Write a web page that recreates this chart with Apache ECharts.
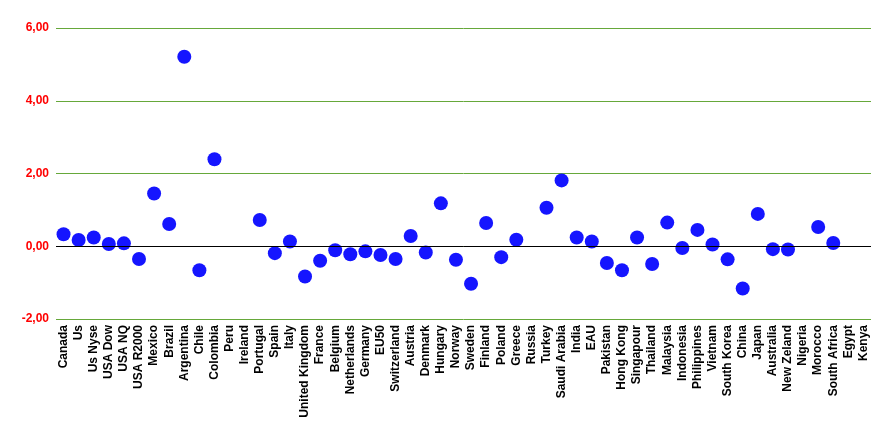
<!DOCTYPE html>
<html>
<head>
<meta charset="utf-8">
<script src="https://cdn.jsdelivr.net/npm/echarts@6/dist/echarts.min.js"></script>
<style>
  html, body { margin: 0; padding: 0; background: #fff; }
  #chart { width: 893px; height: 436px; }
</style>
</head>
<body>
<div id="chart"></div>
<script>
// categories
var countries = ["Canada", "Us", "Us Nyse", "USA Dow", "USA NQ", "USA R2000", "Mexico", "Brazil",
  "Argentina", "Chile", "Colombia", "Peru", "Ireland", "Portugal", "Spain", "Italy",
  "United Kingdom", "France", "Belgium", "Netherlands", "Germany", "EU50", "Switzerland",
  "Austria", "Denmark", "Hungary", "Norway", "Sweden", "Finland", "Poland", "Greece",
  "Russia", "Turkey", "Saudi Arabia", "India", "EAU", "Pakistan", "Hong Kong", "Singapour",
  "Thailand", "Malaysia", "Indonesia", "Philippines", "Vietnam", "South Korea", "China",
  "Japan", "Australia", "New Zeland", "Nigeria", "Morocco", "South Africa", "Egypt", "Kenya"];

// values (null = no point)
var values = [0.33, 0.17, 0.24, 0.06, 0.08, -0.35, 1.45, 0.61,
  5.21, -0.66, 2.39, null, null, 0.72, -0.19, 0.13,
  -0.83, -0.40, -0.11, -0.22, -0.14, -0.24, -0.35,
  0.28, -0.17, 1.18, -0.37, -1.03, 0.64, -0.30, 0.18,
  null, 1.06, 1.81, 0.24, 0.13, -0.46, -0.66, 0.24,
  -0.49, 0.65, -0.05, 0.45, 0.05, -0.36, -1.16,
  0.89, -0.08, -0.09, null, 0.53, 0.09, null, null];

var myChart = echarts.init(document.getElementById("chart"));
var option = {
  animation: false,
  grid: {
    left: 56,
    right: 22,
    top: 28,
    bottom: 117
  },
  xAxis: {
    type: "category",
    data: countries,
    boundaryGap: true,
    axisLine: { show: false },
    axisTick: { show: false },
    axisLabel: {
      interval: 0,
      rotate: 90,
      color: "#000",
      fontWeight: "bold",
      fontSize: 12,
      fontFamily: "Liberation Sans",
      margin: 6
    }
  },
  yAxis: {
    type: "value",
    min: -2,
    max: 6,
    interval: 2,
    axisLine: { show: false },
    axisTick: { show: false },
    axisLabel: {
      color: "#ff0000",
      fontWeight: "bold",
      fontSize: 12,
      fontFamily: "Liberation Sans",
      margin: 7,
      formatter: function (v) {
        return v.toFixed(2).replace(".", ",");
      }
    },
    splitLine: {
      lineStyle: { color: "#66a83a", width: 1 }
    }
  },
  series: [
    {
      type: "scatter",
      data: values,
      symbolSize: 14,
      itemStyle: { color: "#1515ff", opacity: 1 },
      markLine: {
        silent: true,
        symbol: "none",
        label: { show: false },
        lineStyle: { color: "#000", width: 1, type: "solid" },
        data: [{ yAxis: 0 }]
      },
      z: 3
    }
  ]
};
myChart.setOption(option);
</script>
</body>
</html>
